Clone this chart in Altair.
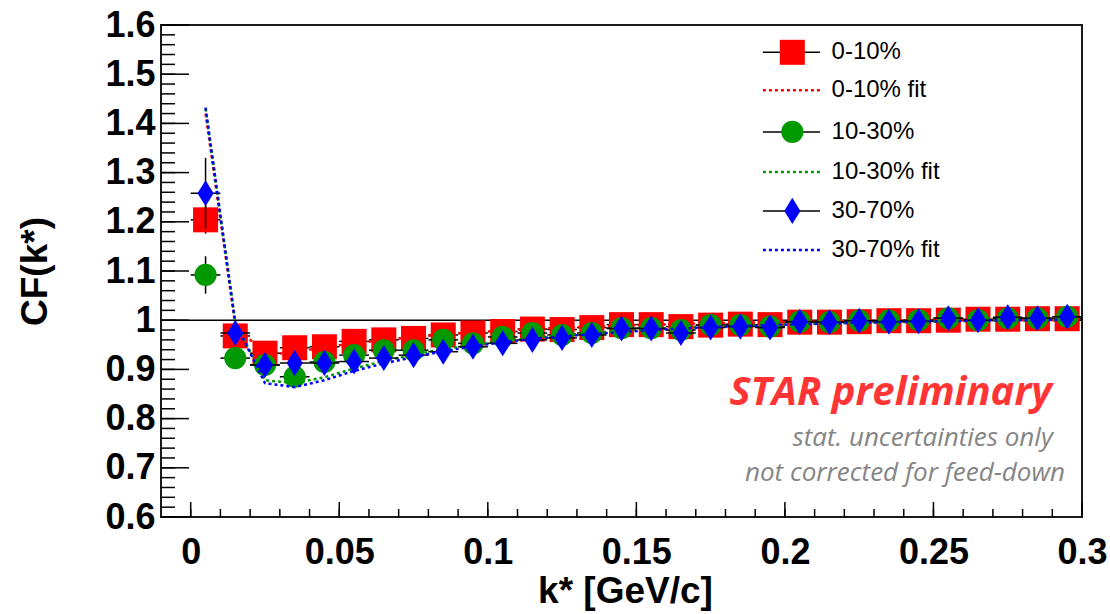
import altair as alt
import pandas as pd

# ---------------- data ----------------
K = [0.005, 0.015, 0.025, 0.035, 0.045, 0.055, 0.065, 0.075, 0.085, 0.095,
     0.105, 0.115, 0.125, 0.135, 0.145, 0.155, 0.165, 0.175, 0.185, 0.195,
     0.205, 0.215, 0.225, 0.235, 0.245, 0.255, 0.265, 0.275, 0.285, 0.295]
BIN_HALF = 0.005

RED_CF = [1.204, 0.968, 0.933, 0.944, 0.946, 0.957, 0.960, 0.963, 0.970, 0.974,
          0.977, 0.982, 0.981, 0.985, 0.991, 0.991, 0.987, 0.990, 0.992, 0.991,
          0.996, 0.996, 0.997, 0.999, 0.999, 1.000, 1.002, 1.002, 1.003, 1.003]
RED_ERR = [0.028, 0.012, 0.009, 0.008, 0.007, 0.006, 0.006, 0.005, 0.005, 0.005,
           0.005, 0.004, 0.004, 0.004, 0.004, 0.004, 0.004, 0.004, 0.004, 0.004,
           0.004, 0.004, 0.004, 0.003, 0.003, 0.003, 0.003, 0.003, 0.003, 0.003]
GREEN_CF = [1.092, 0.923, 0.909, 0.885, 0.915, 0.929, 0.939, 0.939, 0.960, 0.953,
            0.966, 0.974, 0.970, 0.974, 0.984, 0.984, 0.980, 0.990, 0.990, 0.987,
            0.997, 0.996, 0.999, 0.999, 1.000, 1.004, 1.000, 1.004, 1.004, 1.007]
GREEN_ERR = [0.038, 0.014, 0.011, 0.009, 0.008, 0.007, 0.006, 0.006, 0.005, 0.005,
             0.005, 0.005, 0.005, 0.005, 0.004, 0.004, 0.004, 0.004, 0.004, 0.004,
             0.004, 0.004, 0.004, 0.004, 0.004, 0.004, 0.004, 0.004, 0.004, 0.004]
BLUE_CF = [1.258, 0.974, 0.909, 0.913, 0.913, 0.916, 0.923, 0.929, 0.936, 0.946,
           0.953, 0.960, 0.964, 0.970, 0.983, 0.983, 0.974, 0.985, 0.987, 0.985,
           0.997, 0.996, 0.999, 0.997, 0.998, 1.004, 1.000, 1.006, 1.004, 1.007]
BLUE_ERR = [0.072, 0.022, 0.015, 0.012, 0.010, 0.009, 0.008, 0.007, 0.007, 0.006,
            0.006, 0.006, 0.006, 0.005, 0.005, 0.005, 0.005, 0.005, 0.005, 0.005,
            0.005, 0.005, 0.005, 0.005, 0.005, 0.005, 0.005, 0.005, 0.005, 0.005]

RED_FIT = [1.420, 0.990, 0.930, 0.935, 0.945, 0.953, 0.960, 0.966, 0.971, 0.975,
           0.979, 0.982, 0.985, 0.987, 0.989, 0.991, 0.993, 0.994, 0.995, 0.996,
           0.997, 0.998, 0.998, 0.999, 0.999, 1.000, 1.000, 1.000, 1.000, 1.000]
GREEN_FIT = [1.430, 0.995, 0.878, 0.872, 0.884, 0.902, 0.917, 0.930, 0.941, 0.950,
             0.958, 0.964, 0.969, 0.974, 0.978, 0.981, 0.984, 0.987, 0.989, 0.991,
             0.993, 0.994, 0.995, 0.996, 0.997, 0.998, 0.999, 1.000, 1.000, 1.001]
BLUE_FIT = [1.432, 0.995, 0.872, 0.864, 0.878, 0.897, 0.912, 0.925, 0.937, 0.947,
            0.955, 0.962, 0.967, 0.972, 0.976, 0.980, 0.983, 0.986, 0.988, 0.990,
            0.992, 0.993, 0.995, 0.996, 0.997, 0.998, 0.999, 1.000, 1.000, 1.001]

REF_LINE = [1.0]

LEGEND_LABELS = ["0-10%", "0-10% fit", "10-30%", "10-30% fit", "30-70%", "30-70% fit"]
LEGEND_KIND = ["data", "fit", "data", "fit", "data", "fit"]

Y_MAJOR = [0.6, 0.7, 0.8, 0.9, 1.0, 1.1, 1.2, 1.3, 1.4, 1.5, 1.6]
X_MAJOR = [0.0, 0.05, 0.1, 0.15, 0.2, 0.25, 0.3]

# ---------------- styling / layout ----------------
W, H = 921, 492
RED, GREEN, BLUE = "#ff0000", "#009a00", "#0000ff"
COLORS = [RED, RED, GREEN, GREEN, BLUE, BLUE]
FONT = "Liberation Sans"
DIAMOND = "M0,-1L0.62,0L0,1L-0.62,0Z"

xscale = alt.Scale(domain=[-0.01, 0.3], nice=False, zero=False)
yscale = alt.Scale(domain=[0.6, 1.6], nice=False, zero=False)

Y_MINOR = [round(0.6 + 0.02 * i, 2) for i in range(51)]
X_MINOR = [round(0.01 * i, 2) for i in range(31)]


def XQ(f):
    return alt.X(f, type="quantitative", scale=xscale)


def YQ(f):
    return alt.Y(f, type="quantitative", scale=yscale)


def series_df(cf, err):
    return pd.DataFrame({
        "k": K, "cf": cf,
        "klo": [k - BIN_HALF for k in K], "khi": [k + BIN_HALF for k in K],
        "lo": [c - e for c, e in zip(cf, err)], "hi": [c + e for c, e in zip(cf, err)],
    })


x_axis = alt.Axis(values=X_MAJOR, format="~g", ticks=False, tickSize=0, domain=False, grid=False,
                  labelFont=FONT, labelFontSize=36, labelFontWeight="bold", labelColor="black",
                  labelPadding=18, labelFlush=False, labelOverlap=False,
                  title="k* [GeV/c]", titleFont=FONT, titleFontSize=37, titleFontWeight="bold",
                  titleColor="black", titleX=464, titleY=74, titleAlign="center",
                  titleBaseline="middle")
y_axis = alt.Axis(values=Y_MAJOR, format="~g", ticks=False, tickSize=0, domain=False, grid=False,
                  labelFont=FONT, labelFontSize=36, labelFontWeight="bold", labelColor="black",
                  labelPadding=6, labelFlush=False, labelOverlap=False,
                  title="CF(k*)", titleFont=FONT, titleFontSize=37, titleFontWeight="bold",
                  titleColor="black", titleX=-126, titleY=246, titleAngle=270,
                  titleAlign="center", titleBaseline="middle")

layers = []

# axes carrier (invisible)
axes_df = pd.DataFrame({"k": K, "cf": RED_CF})
layers.append(alt.Chart(axes_df).mark_point(opacity=0).encode(
    x=alt.X("k:Q", scale=xscale, axis=x_axis),
    y=alt.Y("cf:Q", scale=yscale, axis=y_axis)))

# inward ticks
layers.append(alt.Chart(pd.DataFrame({"v": Y_MAJOR})).mark_rule(color="black", strokeWidth=1.5).encode(
    y=YQ("v"), x=alt.value(0), x2=alt.value(28)))
layers.append(alt.Chart(pd.DataFrame({"v": Y_MINOR})).mark_rule(color="black", strokeWidth=1.5).encode(
    y=YQ("v"), x=alt.value(0), x2=alt.value(14)))
layers.append(alt.Chart(pd.DataFrame({"v": X_MAJOR})).mark_rule(color="black", strokeWidth=1.5).encode(
    x=XQ("v"), y=alt.value(H), y2=alt.value(H - 15)))
layers.append(alt.Chart(pd.DataFrame({"v": X_MINOR})).mark_rule(color="black", strokeWidth=1.5).encode(
    x=XQ("v"), y=alt.value(H), y2=alt.value(H - 8)))

# reference line at CF = 1
layers.append(alt.Chart(pd.DataFrame({"y": REF_LINE})).mark_rule(color="black", strokeWidth=1.5).encode(
    y=YQ("y"), x=alt.value(0), x2=alt.value(W)))


def add_series(cf, err, fit, color, marker):
    df = series_df(cf, err)
    base = alt.Chart(df)
    layers.append(base.mark_rule(color="black", strokeWidth=1.5).encode(
        x=XQ("klo"), x2="khi", y=YQ("cf")))
    layers.append(base.mark_rule(color="black", strokeWidth=1.5).encode(
        x=XQ("k"), y=YQ("lo"), y2="hi"))
    layers.append(base.mark_point(**marker).encode(x=XQ("k"), y=YQ("cf")))
    fdf = pd.DataFrame({"k": K, "fit": fit})
    layers.append(alt.Chart(fdf).mark_line(color=color, strokeDash=[3, 3], strokeWidth=2.5).encode(
        x=XQ("k"), y=YQ("fit")))


MARK_RED = dict(shape="square", filled=True, color=RED, opacity=1, size=625, strokeWidth=0)
MARK_GREEN = dict(shape="circle", filled=True, color=GREEN, opacity=1, size=490, strokeWidth=0)
MARK_BLUE = dict(shape=DIAMOND, filled=True, color=BLUE, opacity=1, size=680, strokeWidth=0)

add_series(RED_CF, RED_ERR, RED_FIT, RED, MARK_RED)
add_series(GREEN_CF, GREEN_ERR, GREEN_FIT, GREEN, MARK_GREEN)
add_series(BLUE_CF, BLUE_ERR, BLUE_FIT, BLUE, MARK_BLUE)

# ---------------- legend (placed in data coordinates) ----------------
LEG_Y = [1.5445, 1.4675, 1.3827, 1.3014, 1.2222, 1.1427]
LEG_X0, LEG_X1, LEG_XM, LEG_XT = 0.1926, 0.2118, 0.2025, 0.2157
leg = pd.DataFrame({"label": LEGEND_LABELS, "kind": LEGEND_KIND, "color": COLORS, "y": LEG_Y,
                    "x0": LEG_X0, "x1": LEG_X1, "xm": LEG_XM, "xt": LEG_XT})
leg_data = leg[leg.kind == "data"].reset_index(drop=True)
leg_fit = leg[leg.kind == "fit"]
layers.append(alt.Chart(leg_data).mark_rule(color="black", strokeWidth=1.5).encode(
    x=XQ("x0"), x2="x1", y=YQ("y")))
layers.append(alt.Chart(leg_fit).mark_rule(strokeDash=[3, 3], strokeWidth=2.5).encode(
    x=XQ("x0"), x2="x1", y=YQ("y"), color=alt.Color("color:N", scale=None)))
for i, mk in enumerate([MARK_RED, MARK_GREEN, MARK_BLUE]):
    layers.append(alt.Chart(leg_data.iloc[[i]]).mark_point(**mk).encode(x=XQ("xm"), y=YQ("y")))
layers.append(alt.Chart(leg).mark_text(align="left", baseline="middle", font=FONT, fontSize=24,
                                       color="black").encode(
    x=XQ("xt"), y=YQ("y"), text="label:N"))

# ---------------- annotations ----------------
ann = pd.DataFrame({
    "text": ["STAR preliminary", "stat. uncertainties only", "not corrected for feed-down"],
    "x": [0.2899, 0.2902, 0.2943],
    "y": [0.8276, 0.7443, 0.6732],
})
layers.append(alt.Chart(ann.iloc[[0]]).mark_text(
    align="right", baseline="alphabetic", font="Open Sans", fontSize=40, fontWeight="bold",
    fontStyle="italic", color="#ff3535").encode(x=XQ("x"), y=YQ("y"), text="text:N"))
layers.append(alt.Chart(ann.iloc[[1, 2]]).mark_text(
    align="right", baseline="alphabetic", font="Open Sans", fontSize=26,
    fontStyle="italic", color="#858585").encode(x=XQ("x"), y=YQ("y"), text="text:N"))

chart = alt.layer(*layers).properties(
    width=W, height=H,
    padding={"left": 161, "top": 25, "right": 28, "bottom": 97},
    autosize=alt.AutoSizeParams(type="none"),
    background="white",
).configure_view(stroke="#1a1a1a", strokeWidth=2)

chart.save("out.html", embed_options={"renderer": "svg", "actions": False})
